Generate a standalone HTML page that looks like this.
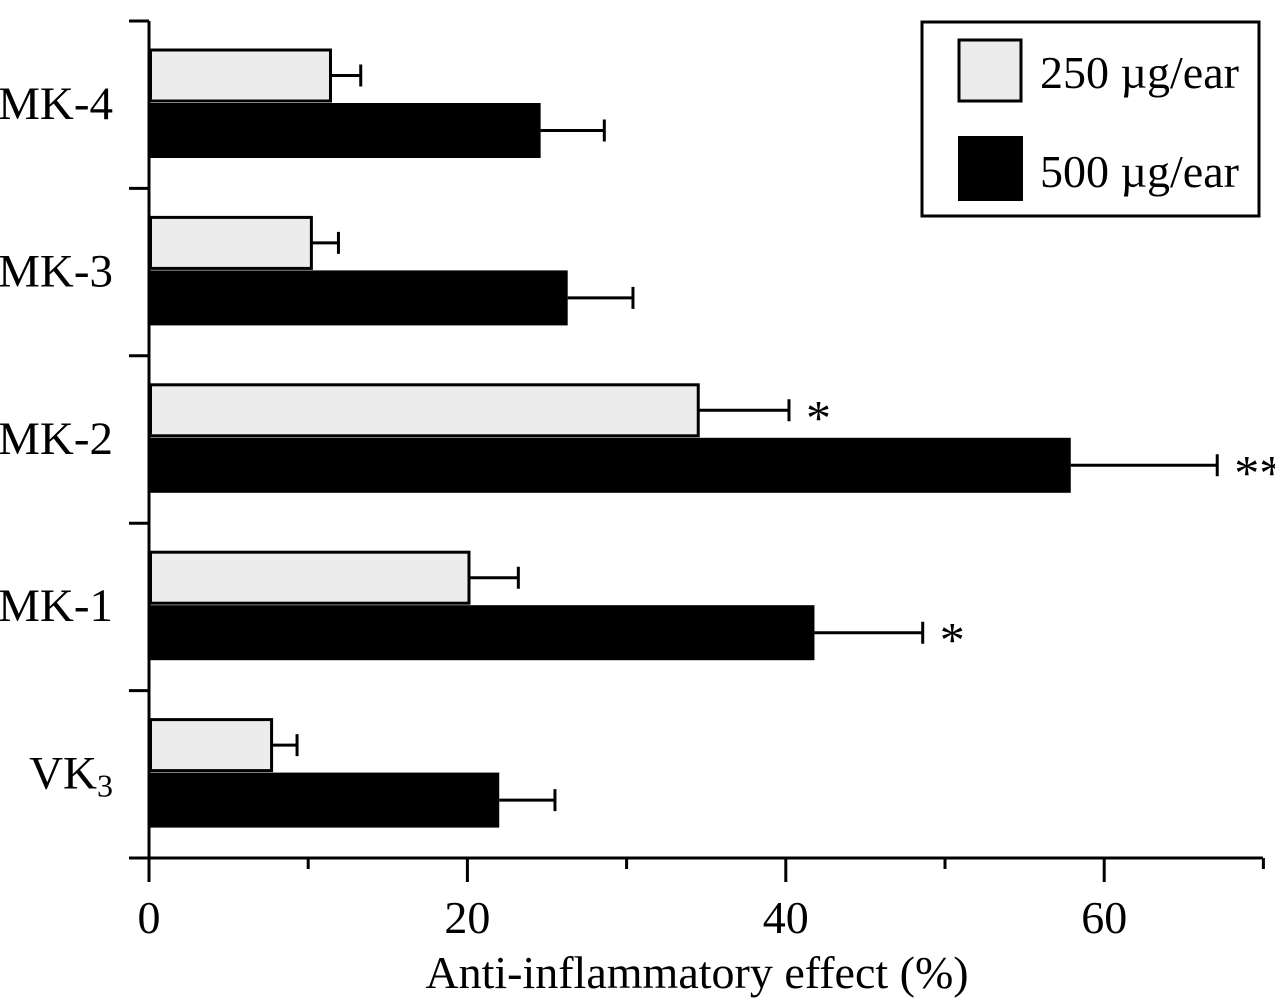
<!DOCTYPE html>
<html><head><meta charset="utf-8"><style>
html,body{margin:0;padding:0;background:#fff;}
svg{display:block;font-family:"Liberation Serif",serif;}
</style></head><body>
<svg id="chart" width="1275" height="1000" viewBox="0 0 1275 1000">
<g id="axes"></g>
<g id="bars"></g>
<g>
<rect x="922" y="22" width="337" height="194" fill="#fff" stroke="#000" stroke-width="3"/>
<rect x="959" y="40" width="62" height="61" fill="#ececec" stroke="#000" stroke-width="3"/>
<text x="1040" y="88" font-size="46">250 µg/ear</text>
<rect x="958" y="136" width="65" height="65" fill="#000"/>
<text x="1040" y="187" font-size="46">500 µg/ear</text>
</g>
<text x="697" y="988" font-size="46" text-anchor="middle">Anti-inflammatory effect (%)</text>
</svg>
<script>
const categories = ["MK-4","MK-3","MK-2","MK-1","VK3"];
const low = [11.4, 10.2, 34.5, 20.1, 7.7];
const lowErr = [1.9, 1.7, 5.7, 3.1, 1.6];
const high = [24.6, 26.3, 57.9, 41.8, 22.0];
const highErr = [4.0, 4.1, 9.2, 6.8, 3.5];
const lowSig = ["","","*","",""];
const highSig = ["","","**","*",""];
const xTicks = [0,10,20,30,40,50,60,70];
const xTickLabels = ["0","","20","","40","","60",""];

const NS="http://www.w3.org/2000/svg";
const x0=149, pxPer=15.92, yTop=21, band=167.4, axisY=858;
const X=v=>x0+v*pxPer;
function mk(tag,attrs,parent,txt){const e=document.createElementNS(NS,tag);for(const k in attrs)e.setAttribute(k,attrs[k]);if(txt!==undefined)e.textContent=txt;parent.appendChild(e);return e;}
const ax=document.getElementById('axes'), bg=document.getElementById('bars');

let l=mk('line',{x1:x0,y1:yTop,x2:x0,y2:axisY+24,stroke:'#000','stroke-width':3},ax);


l=mk('line',{x1:129,y1:axisY,x2:1263,y2:axisY,stroke:'#000','stroke-width':3},ax);


for(let i=0;i<=categories.length;i++){
  const y=yTop+i*band;
  const t=mk('line',{x1:129,y1:y,x2:x0,y2:y,stroke:'#000','stroke-width':3},ax);
  
  
}
xTicks.forEach((v,i)=>{
  const major=xTickLabels[i]!=="" || v===0;
  const t=mk('line',{x1:X(v),y1:axisY,x2:X(v),y2:axisY+(major?24:11),stroke:'#000','stroke-width':3},ax);
  
  
  if(xTickLabels[i]!==""){
    const tx=mk('text',{x:X(v),y:933,'font-size':46,'text-anchor':'middle'},ax,xTickLabels[i]);
    
    
  }
});
categories.forEach((c,i)=>{
  const y=yTop+i*band;
  const lab=mk('text',{x:113,y:y+98,'font-size':47,'text-anchor':'end'},ax);
  
  
  if(c==="VK3"){lab.textContent="VK";const s=mk('tspan',{'font-size':32,dy:8},lab,"3");}
  else lab.textContent=c;
  const ly=y+29, lh=51;
  const r1=mk('rect',{x:x0+1.5,y:ly,width:X(low[i])-x0-1.5,height:lh,fill:'#ececec',stroke:'#000','stroke-width':3},bg);
  
  
  const e1=mk('path',{d:`M${X(low[i])} ${ly+lh/2}H${X(low[i]+lowErr[i])}M${X(low[i]+lowErr[i])} ${ly+lh/2-11}V${ly+lh/2+11}`,stroke:'#000','stroke-width':3,fill:'none'},bg);
  
  
  if(lowSig[i]){const s=mk('text',{x:X(low[i]+lowErr[i])+17,y:ly+lh/2+24,'font-size':50},bg,lowSig[i]);
    
    }
  const dy=y+82, dh=55;
  const r2=mk('rect',{x:x0,y:dy,width:X(high[i])-x0,height:dh,fill:'#000'},bg);
  
  
  const e2=mk('path',{d:`M${X(high[i])} ${dy+dh/2}H${X(high[i]+highErr[i])}M${X(high[i]+highErr[i])} ${dy+dh/2-11}V${dy+dh/2+11}`,stroke:'#000','stroke-width':3,fill:'none'},bg);
  
  
  if(highSig[i]){const s=mk('text',{x:X(high[i]+highErr[i])+17,y:dy+dh/2+24,'font-size':50},bg,highSig[i]);
    
    }
});
</script>
</body></html>
